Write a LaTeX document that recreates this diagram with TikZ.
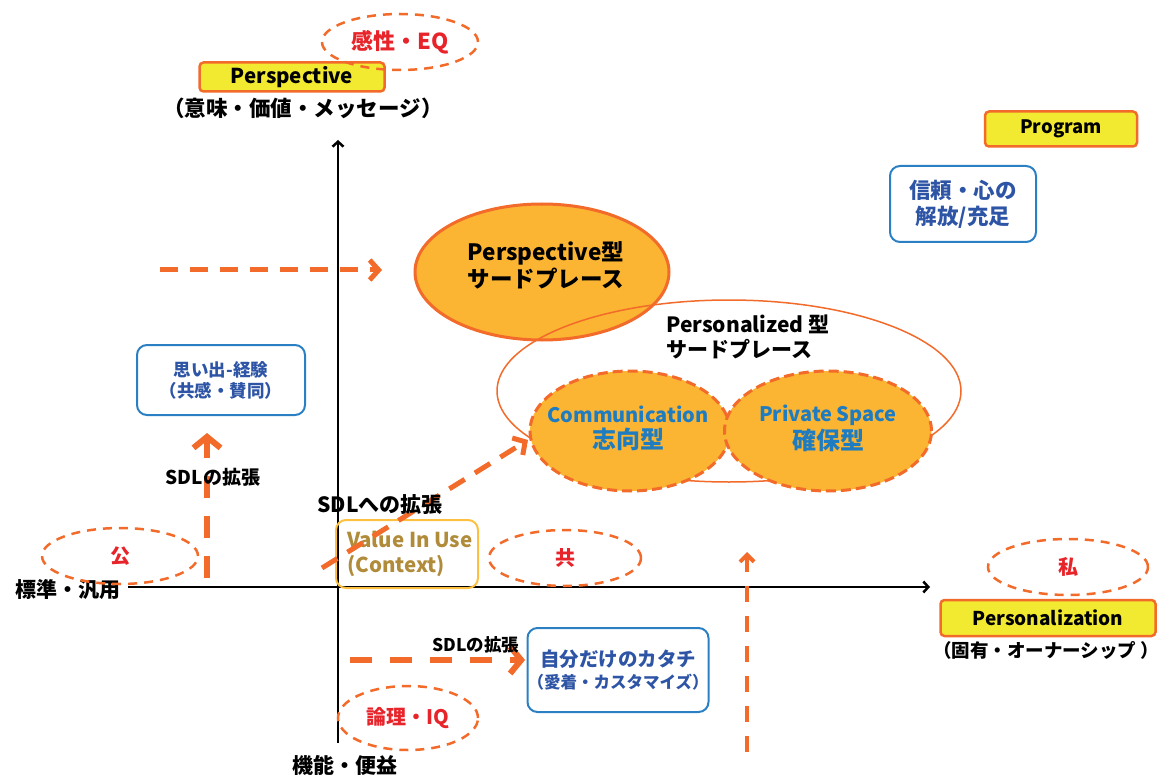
\documentclass[tikz,border=0pt]{standalone}
\usepackage{fontspec}
\setmainfont{Noto Sans CJK JP}
\usetikzlibrary{arrows.meta,shapes.geometric}
\definecolor{orline}{HTML}{F26B2A}
\definecolor{ybox}{HTML}{F2EA30}
\definecolor{efill}{HTML}{FBB532}
\definecolor{bbord}{HTML}{2B7FC3}
\definecolor{btext}{HTML}{2E55A5}
\definecolor{ctext}{HTML}{1F7CC0}
\definecolor{rtext}{HTML}{E8242B}
\definecolor{gtext}{HTML}{B08B3A}
\definecolor{gbord}{HTML}{FDC040}
\newcommand{\fs}[1]{\fontsize{#1pt}{\dimexpr #1pt*6/5\relax}\selectfont}
\begin{document}
\begin{tikzpicture}[x=1pt,y=-1pt,font=\bfseries,
  ybx/.style={draw=orline,fill=ybox,line width=2.5pt,rounded corners=4pt,inner sep=0pt,font=\bfseries\fs{18.5}},
  bbx/.style={draw=bbord,line width=2pt,rounded corners=10pt,inner sep=0pt,text=btext,align=center},
  dell/.style={ellipse,draw=orline,line width=2.5pt,dash pattern=on 9pt off 7pt,inner sep=0pt,text=rtext,font=\bfseries\fs{20}},
  darr/.style={draw=orline,line width=5pt,dash pattern=on 18pt off 12pt,-{Straight Barb[length=9pt,width=20pt]}},
  axis/.style={draw=black,line width=2.5pt,-{Straight Barb[length=5pt,width=11pt]}},
  lbl/.style={inner sep=0pt,font=\bfseries\fs{16}}]
\useasboundingbox (0,0) rectangle (1157,778);

% axis end points
\coordinate (vb) at (338,743);
\coordinate (vt) at (338,140);
\coordinate (hl) at (128,587);
\coordinate (hr) at (930,587);

% dashed top arrow (under axis)
\coordinate (a1s) at (160,270);
\coordinate (a1e) at (382,270);
\draw[darr] (a1s) -- (a1e);

\draw[axis] (vb) -- (vt);
\draw[axis] (hl) -- (hr);

\node[lbl,font=\bfseries\fs{21}] (std) at (68,590) {標準・汎用};
\node[lbl,font=\bfseries\fs{21}] (func) at (345,765) {機能・便益};

% top left
\node[ybx,minimum width=185pt,minimum height=29pt,font=\bfseries\fs{20.5}] (persp) at (292,77) {Perspective};
\node[lbl,font=\bfseries\fs{21.5}] (persp2) at (303,108) {（意味・価値・メッセージ）};
\node[dell,minimum width=156pt,minimum height=56pt,font=\bfseries\fs{22}] (eq) at (400,42) {感性・EQ};

% top right
\node[ybx,minimum width=152pt,minimum height=35pt] (prog) at (1061,129) {Program};
\node[bbx,minimum width=146pt,minimum height=76pt,font=\bfseries\fs{21.5}] (trust) at (963,204) {信頼・心の\\解放/充足};

% ellipses
\node[ellipse,draw=orline,fill=efill,line width=3pt,minimum width=254pt,minimum height=136pt] (pe) at (542,272) {};
\node[lbl,align=center,font=\bfseries\fs{22.5}] (pet) at (546,265) {Perspective型\\サードプレース};
\node[ellipse,draw=orline,line width=1.5pt,minimum width=464pt,minimum height=182pt] (big) at (729,391) {};
\node[lbl,align=left,anchor=west,font=\bfseries\fs{21}] (pzt) at (666,337) {Personalized 型\\サードプレース};
\node[ellipse,draw=orline,fill=efill,line width=3pt,dash pattern=on 10pt off 5pt,minimum width=200pt,minimum height=120pt] (comm) at (630,431) {};
\node[ellipse,draw=orline,fill=efill,line width=3pt,dash pattern=on 10pt off 5pt,minimum width=207pt,minimum height=120pt] (priv) at (828,431) {};
\node[lbl,align=center,text=ctext,font=\bfseries\fs{20}] (commt) at (628,428) {Communication\\[2pt]{\fs{24}志向型}};
\node[lbl,align=center,text=ctext,font=\bfseries\fs{20}] (privt) at (828,428) {Private Space\\[2pt]{\fs{24}確保型}};

% left
\node[bbx,minimum width=168pt,minimum height=70pt,font=\bfseries\fs{17.5}] (mem) at (221,380) {思い出-経験\\（共感・賛同）};
\node[dell,minimum width=156pt,minimum height=56pt] (pub) at (120,556) {公};
\coordinate (a2s) at (207,578);
\coordinate (a2e) at (207,433);
\draw[darr,line width=6pt,dash pattern=on 22pt off 18pt,-{Straight Barb[length=11pt,width=27pt]}] (a2s) -- (a2e);
\node[lbl,font=\bfseries\fs{19}] (sdl1) at (213,477) {SDLの拡張};

% center
\node[draw=gbord,line width=2pt,rounded corners=10pt,minimum width=142pt,minimum height=68pt,inner sep=0pt] (viu) at (407,554) {};
\node[lbl,align=left,anchor=west,text=gtext,font=\bfseries\fs{20.5}] (viut) at (347,554) {Value In Use\\(Context)};
\coordinate (a3s) at (322,568);
\coordinate (a3e) at (528,440);
\draw[darr] (a3s) -- (a3e);
\node[lbl,font=\bfseries\fs{21}] (sdl2) at (380,505) {SDLへの拡張};
\node[dell,minimum width=152pt,minimum height=56pt] (kyo) at (565,558) {共};

% right
\node[dell,minimum width=160pt,minimum height=56pt] (shi) at (1068,567) {私};
\node[ybx,minimum width=215pt,minimum height=36pt,font=\bfseries\fs{19}] (pers) at (1048,618) {Personalization};
\node[lbl,font=\bfseries\fs{18.5}] (pers2) at (1046,650) {（固有・オーナーシップ ）};
\coordinate (a4s) at (747,752);
\coordinate (a4e) at (747,552);
\draw[darr,line width=4pt,dash pattern=on 16pt off 14pt,-{Straight Barb[length=7pt,width=14pt]}] (a4s) -- (a4e);

% bottom
\coordinate (a5s) at (350,660);
\coordinate (a5e) at (525,660);
\draw[darr,line width=6pt,dash pattern=on 22pt off 18pt,-{Straight Barb[length=11pt,width=27pt]}] (a5s) -- (a5e);
\node[lbl,font=\bfseries\fs{17.5}] (sdl3) at (476,645) {SDLの拡張};
\node[bbx,minimum width=177pt,minimum height=84pt] (own) at (618,670) {{\fs{19.5}自分だけのカタチ}\\[5pt]{\fs{16.5}（愛着・カスタマイズ）}};
\node[dell,minimum width=140pt,minimum height=64pt] (iq) at (408,718) {論理・IQ};
\end{tikzpicture}
\end{document}
